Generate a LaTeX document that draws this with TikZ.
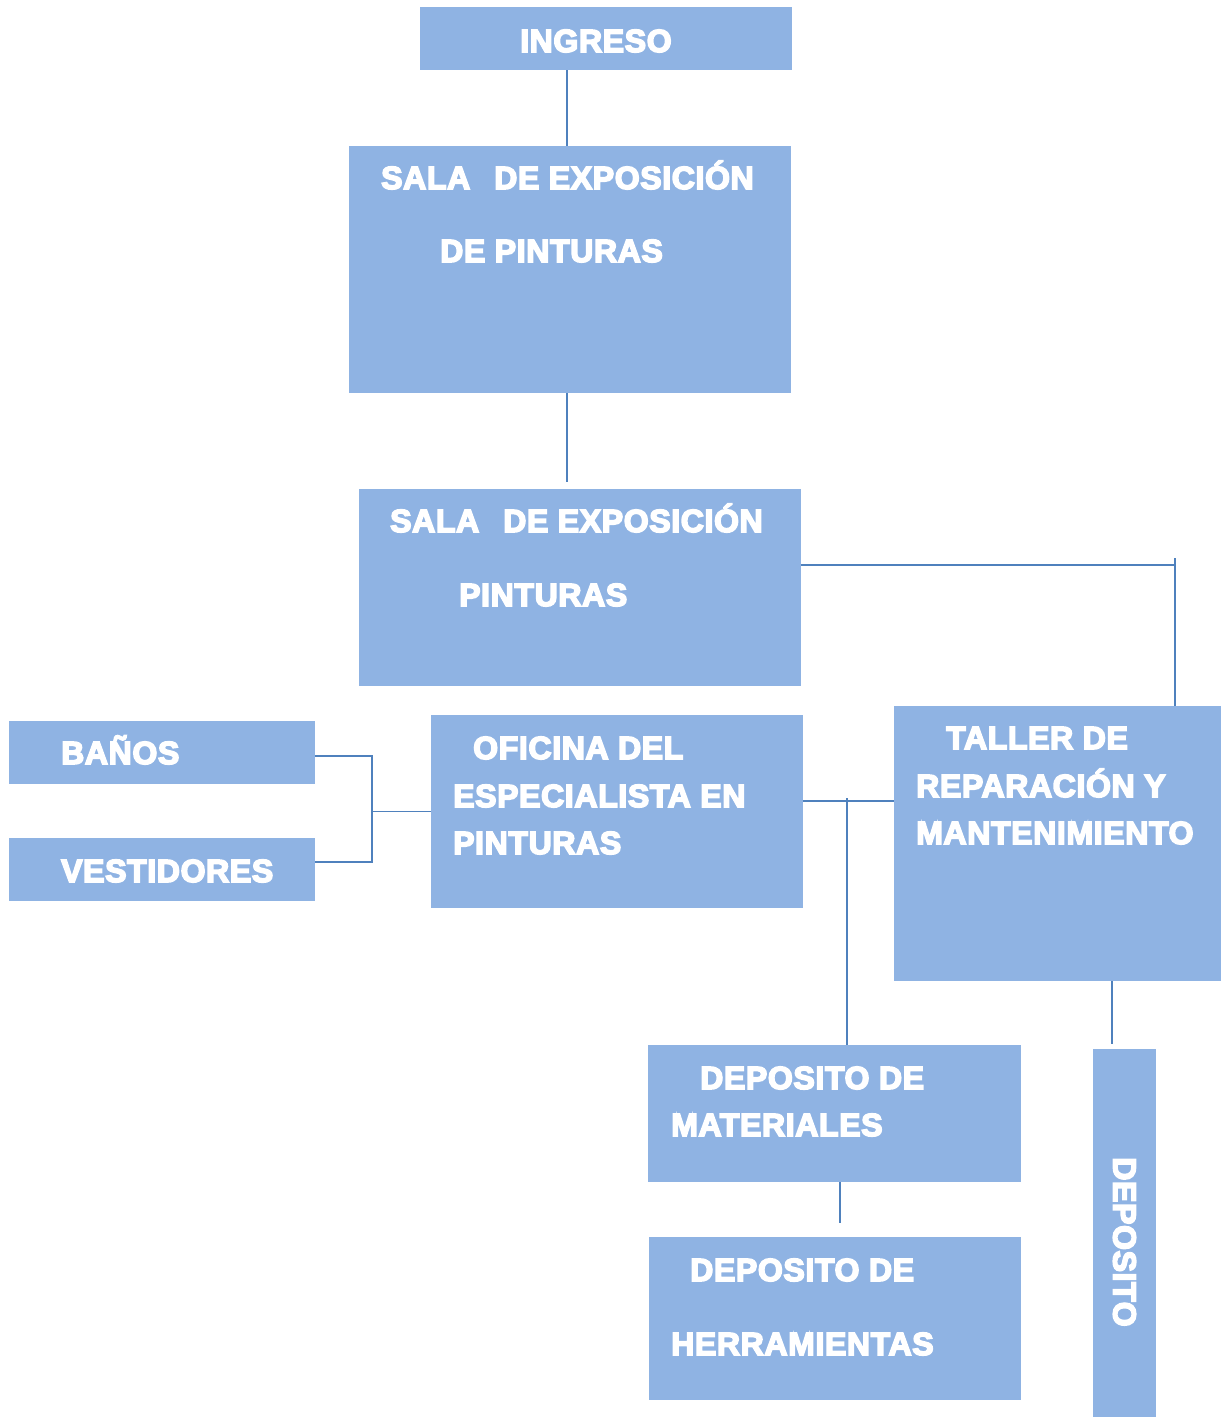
\documentclass[tikz,border=0pt]{standalone}
\usepackage{fontspec}
\newfontfamily\lbl{Liberation Sans}[BoldFeatures={FakeBold=5,LetterSpace=2}]
\definecolor{boxblue}{HTML}{8FB3E3}
\definecolor{lineblue}{HTML}{4F81BD}
\tikzset{
  room/.style={fill=boxblue, draw=none, inner sep=0pt, rectangle},
  txt/.style={anchor=base west, inner sep=0pt, text=white, font=\lbl\bfseries\fontsize{32}{38}\selectfont},
  conn/.style={draw=lineblue, line width=1.8pt}
}
\newcommand{\roombox}[5]{% name, x1, y1, x2, y2
  \node[room, minimum width={#4-#2}, minimum height={#5-#3}] (#1) at ({(#2+#4)/2},{(#3+#5)/2}) {};}
\begin{document}
\begin{tikzpicture}[x=1pt, y=-1pt]
\useasboundingbox (0,0) rectangle (1223,1418);
% boxes
\roombox{ing}{420}{7}{792}{70}
\roombox{sa}{349}{146}{791}{393}
\roombox{sb}{359}{489}{801}{686}
\roombox{ofi}{431}{715}{803}{908}
\roombox{tal}{894}{706}{1221}{981}
\roombox{ban}{9}{721}{315}{784}
\roombox{ves}{9}{838}{315}{901}
\roombox{mat}{648}{1045}{1021}{1182}
\roombox{her}{649}{1237}{1021}{1400}
\roombox{dep}{1093}{1049}{1156}{1417}
% texts
\node[txt] (tIng) at (520,52) {INGRESO};
\node[txt] (tSa1) at (381,189) {SALA\hspace{24pt}DE EXPOSICIÓN};
\node[txt] (tSa2) at (440,262) {DE PINTURAS};
\node[txt] (tSb1) at (390,532) {SALA\hspace{24pt}DE EXPOSICIÓN};
\node[txt] (tSb2) at (459,606) {PINTURAS};
\node[txt] (tOf1) at (473,759) {OFICINA DEL};
\node[txt] (tOf2) at (453,807) {ESPECIALISTA EN};
\node[txt] (tOf3) at (453,854) {PINTURAS};
\node[txt] (tTa1) at (946,749) {TALLER DE};
\node[txt] (tTa2) at (916,797) {REPARACIÓN Y};
\node[txt] (tTa3) at (916,844) {MANTENIMIENTO};
\node[txt] (tBa) at (61,764) {BAÑOS};
\node[txt] (tVe) at (61,882) {VESTIDORES};
\node[txt] (tMa1) at (700,1089) {DEPOSITO DE};
\node[txt] (tMa2) at (671,1136) {MATERIALES};
\node[txt] (tHe1) at (690,1281) {DEPOSITO DE};
\node[txt] (tHe2) at (671,1355) {HERRAMIENTAS};
\node[txt, anchor=center, rotate=-90] (tDe) at (1124.5,1242) {DEPOSITO};
% helper coordinates
\coordinate (xa) at (567,0);
\coordinate (ea) at (567,482);
\coordinate (ya) at (0,565);
\coordinate (ka) at (1175,565);
\coordinate (kt) at (1175,558);
\coordinate (yo) at (0,801);
\coordinate (km) at (847,798);
\coordinate (xm) at (840,0);
\coordinate (em) at (840,1223);
\coordinate (xd) at (1112,0);
\coordinate (ed) at (1112,1044);
\coordinate (yb) at (0,756);
\coordinate (yv) at (0,862);
\coordinate (xb) at (372,0);
% connectors
\draw[conn] (ing.south -| xa) -- (sa.north -| xa);
\draw[conn] (sa.south -| xa) -- (ea);
\draw[conn] (sb.east |- ya) -- (ka);
\draw[conn] (kt) -- (tal.north -| kt);
\draw[conn] (ofi.east |- yo) -- (tal.west |- yo);
\draw[conn] (km) -- (mat.north -| km);
\draw[conn] (mat.south -| xm) -- (em);
\draw[conn] (tal.south -| xd) -- (ed);
\draw[conn] (ban.east |- yb) -| (xb |- yv) -- (ves.east |- yv);
\draw[conn] (xb |- ofi.west) -- (ofi.west);
\end{tikzpicture}
\end{document}
